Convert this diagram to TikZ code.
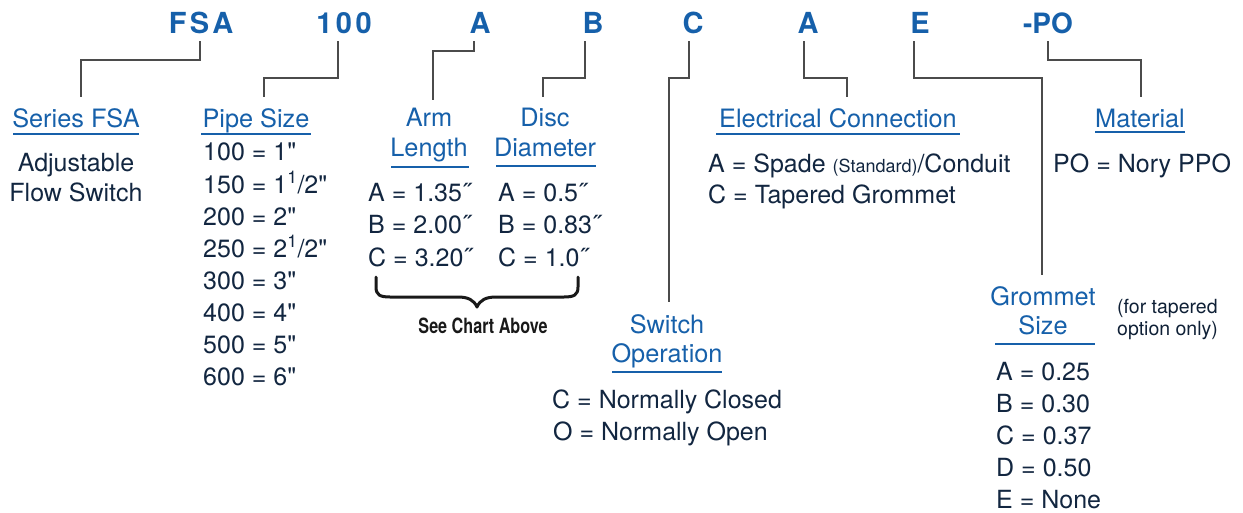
\documentclass[tikz,border=0pt]{standalone}
\usepackage{fontspec}
\setmainfont{TeX Gyre Heros}
\newfontfamily\codefam[LetterSpace=12]{TeX Gyre Heros}
\usetikzlibrary{calc}
\definecolor{hblue}{RGB}{22,96,170}
\definecolor{navy}{RGB}{18,38,64}
\definecolor{lgray}{RGB}{75,75,75}
\newcommand\inchmark{\XeTeXglyph\XeTeXglyphindex "quotedbl"\relax}
\tikzset{
  code/.style={anchor=base,inner sep=0pt,text=hblue,font=\codefam\fontsize{29}{32}\selectfont\bfseries},
  head/.style={anchor=base,inner sep=0pt,text=hblue,font=\fontsize{25.3}{28}\selectfont},
  body/.style={anchor=base west,inner sep=0pt,text=navy,font=\fontsize{25}{28}\selectfont},
  bodyc/.style={body,anchor=base},
  note/.style={anchor=base west,inner sep=0pt,text=navy!85!black,font=\fontsize{19.5}{23}\selectfont},
  conn/.style={draw=lgray,line width=1.4pt},
  uline/.style={draw=hblue,line width=1.5pt},
  bracestyle/.style={draw=black!90,line width=3pt,line cap=round,line join=round}
}
\begin{document}
\begin{tikzpicture}[x=1pt,y=-1pt]
\useasboundingbox (0,0) rectangle (1243,512);

% ---- top code ----
\node[code] (cFSA) at (201,33) {FSA};
\node[code] (c100) at (344,33) {100};
\node[code] (cA) at (480,33) {A};
\node[code] (cB) at (593,33) {B};
\node[code] (cC) at (693,33) {C};
\node[code] (cA2) at (808,33) {A};
\node[code] (cE) at (920,33) {E};
\node[code,font=\fontsize{28}{32}\selectfont\bfseries] (cPO) at (1048,33) {-PO};

% ---- connector end points ----
\coordinate (tFSA) at (200,41);  \coordinate (bFSA) at (81,97);
\coordinate (t100) at (338,41);  \coordinate (b100) at (264,97);
\coordinate (tA) at (474,41);    \coordinate (bA) at (433,100);
\coordinate (tB) at (585,41);    \coordinate (bB) at (543,97);
\coordinate (tC) at (689,41);    \coordinate (bC) at (669,302);
\coordinate (tA2) at (804,41);   \coordinate (bA2) at (847,97);
\coordinate (tE) at (914,41);    \coordinate (bE) at (1042,275);
\coordinate (tPO) at (1048,41);  \coordinate (bPO) at (1141,97);

\draw[conn] (tFSA) -- ++(0,19) -| (bFSA);
\draw[conn] (t100) -- ++(0,37) -| (b100);
\draw[conn] (tA) -- ++(0,10) -| (bA);
\draw[conn] (tB) -- ++(0,37) -| (bB);
\draw[conn] (tC) -- ++(0,37) -| (bC);
\draw[conn] (tA2) -- ++(0,37) -| (bA2);
\draw[conn] (tE) -- ++(0,37) -| (bE);
\draw[conn] (tPO) -- ++(0,19) -| (bPO);

% ---- Series FSA ----
\node[head] (hSeries) at (76,127) {Series FSA};
\draw[uline] (13,134) -- (139,134);
\node[bodyc] (tAdj) at (76,171) {Adjustable};
\node[bodyc] (tFlow) at (76,201) {Flow Switch};

% ---- Pipe Size ----
\node[head] (hPipe) at (256,127) {Pipe Size};
\draw[uline] (201,134) -- (311,134);
\node[body] (p1) at (203,160) {100 = 1\inchmark};
\node[body] (p2) at (203,193) {150 = 1\textsuperscript{1}/2\inchmark};
\node[body] (p3) at (203,225) {200 = 2\inchmark};
\node[body] (p4) at (203,257) {250 = 2\textsuperscript{1}/2\inchmark};
\node[body] (p5) at (203,289) {300 = 3\inchmark};
\node[body] (p6) at (203,321) {400 = 4\inchmark};
\node[body] (p7) at (203,353) {500 = 5\inchmark};
\node[body] (p8) at (203,385) {600 = 6\inchmark};

% ---- Arm Length ----
\node[head] (hArm1) at (429,126) {Arm};
\node[head] (hArm2) at (429,156) {Length};
\draw[uline] (391,167) -- (469,167);
\node[body] (a1) at (368,201) {A = 1.35˝};
\node[body] (a2) at (368,233.5) {B = 2.00˝};
\node[body] (a3) at (368,266) {C = 3.20˝};

% ---- Disc Diameter ----
\node[head] (hDisc1) at (545,126) {Disc};
\node[head] (hDisc2) at (545,156) {Diameter};
\draw[uline] (496,166) -- (596,166);
\node[body] (d1) at (498,201) {A = 0.5˝};
\node[body] (d2) at (498,233.5) {B = 0.83˝};
\node[body] (d3) at (498,266) {C = 1.0˝};

% ---- brace ----
\draw[bracestyle] (376,277) -- (376,287) .. controls (376,295) and (380,297) .. (390,297)
  -- (458,297) .. controls (468,297) and (474,300) .. (477,307)
  .. controls (480,300) and (486,297) .. (496,297)
  -- (564,297) .. controls (574,297) and (578,295) .. (578,287) -- (578,277);
\node[anchor=base,inner sep=0pt,text=black!90,font=\fontsize{21}{24}\selectfont\bfseries] (see) at (483,333) {\scalebox{0.77}[1]{See Chart Above}};

% ---- Switch Operation ----
\node[head] (hSw1) at (667,333) {Switch};
\node[head] (hSw2) at (667,362) {Operation};
\draw[uline] (612,372) -- (722,372);
\node[body] (s1) at (552,408) {C = Normally Closed};
\node[body] (s2) at (553,440) {O = Normally Open};

% ---- Electrical Connection ----
\node[head] (hElec) at (838,127) {Electrical Connection};
\draw[uline] (716,134) -- (960,134);
\node[body] (e1) at (708,172) {A = Spade {\fontsize{18}{20}\selectfont(Standard)}/Conduit};
\node[body] (e2) at (708,203) {C = Tapered Grommet};

% ---- Material ----
\node[head] (hMat) at (1140,127) {Material};
\draw[uline] (1095,132) -- (1185,132);
\node[body] (m1) at (1053,172) {PO = Nory PPO};

% ---- Grommet Size ----
\node[head] (hGr1) at (1043,305) {Grommet};
\node[head] (hGr2) at (1043,334) {Size};
\draw[uline] (995,344) -- (1095,344);
\node[note] (n1) at (1117,313) {(for tapered};
\node[note] (n2) at (1117,335) {option only)};
\node[body] (g1) at (996,380) {A = 0.25};
\node[body] (g2) at (996,412) {B = 0.30};
\node[body] (g3) at (996,444) {C = 0.37};
\node[body] (g4) at (996,476) {D = 0.50};
\node[body] (g5) at (996,508) {E = None};
\end{tikzpicture}
\end{document}
